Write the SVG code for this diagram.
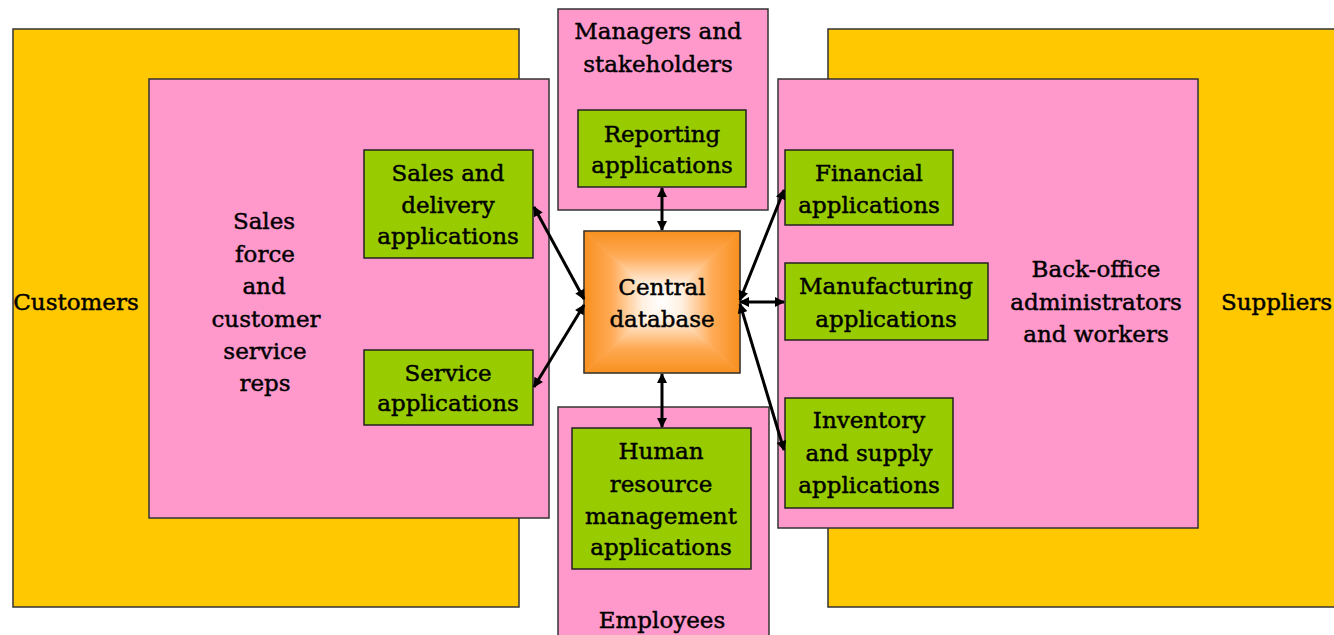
<svg xmlns="http://www.w3.org/2000/svg" width="1334" height="635" viewBox="0 0 1334 635">
<defs>
<style>
.y{fill:#FFC800;stroke:#333;stroke-width:1.5}
.p{fill:#FF99CC;stroke:#333;stroke-width:1.5}
.g{fill:#99CC00;stroke:#222;stroke-width:1.5}
text{font-family:"DejaVu Serif","Liberation Serif",serif;font-size:23px;fill:#000;stroke:#000;stroke-width:0.45;text-anchor:middle}
.c line{stroke:#000;stroke-width:3;marker-start:url(#ah);marker-end:url(#ah)}
.tri{stroke-width:0.8}
</style>
<marker id="ah" viewBox="0 0 10 10" refX="9" refY="5" markerWidth="11" markerHeight="10" markerUnits="userSpaceOnUse" orient="auto-start-reverse">
<path d="M0,0 L10,5 L0,10 z" fill="#000"/>
</marker>
<linearGradient id="gt" gradientUnits="userSpaceOnUse" x1="0" y1="231" x2="0" y2="302">
<stop offset="0" stop-color="#F7901E"/><stop offset="0.35" stop-color="#FFAA55"/><stop offset="0.75" stop-color="#FFF0E0"/><stop offset="1" stop-color="#FFFFFF"/>
</linearGradient>
<linearGradient id="gb" gradientUnits="userSpaceOnUse" x1="0" y1="373" x2="0" y2="302">
<stop offset="0" stop-color="#F7901E"/><stop offset="0.35" stop-color="#FFAA55"/><stop offset="0.75" stop-color="#FFF0E0"/><stop offset="1" stop-color="#FFFFFF"/>
</linearGradient>
<linearGradient id="gl" gradientUnits="userSpaceOnUse" x1="584" y1="0" x2="662" y2="0">
<stop offset="0" stop-color="#F7901E"/><stop offset="0.35" stop-color="#FFAA55"/><stop offset="0.75" stop-color="#FFF0E0"/><stop offset="1" stop-color="#FFFFFF"/>
</linearGradient>
<linearGradient id="gr" gradientUnits="userSpaceOnUse" x1="740" y1="0" x2="662" y2="0">
<stop offset="0" stop-color="#F7901E"/><stop offset="0.35" stop-color="#FFAA55"/><stop offset="0.75" stop-color="#FFF0E0"/><stop offset="1" stop-color="#FFFFFF"/>
</linearGradient>
</defs>
<rect width="1334" height="635" fill="#FFFFFF"/>
<g id="customers">
<rect class="y" x="13" y="29" width="506" height="578"/>
<text x="76" y="310">Customers</text>
</g>
<g id="suppliers">
<rect class="y" x="828" y="29" width="510" height="578"/>
<text x="1221" y="310" style="text-anchor:start">Suppliers</text>
</g>
<g id="sales-force">
<rect class="p" x="149" y="79" width="400" height="439"/>
<text x="264" y="229">Sales</text>
<text x="265" y="262">force</text>
<text x="264" y="294">and</text>
<text x="266" y="327">customer</text>
<text x="265" y="359">service</text>
<text x="265" y="391">reps</text>
</g>
<g id="back-office">
<rect class="p" x="778" y="79" width="420" height="449"/>
<text x="1096" y="277">Back-office</text>
<text x="1096" y="310">administrators</text>
<text x="1096" y="342">and workers</text>
</g>
<g id="managers">
<rect class="p" x="558" y="9" width="210" height="201"/>
<text x="658" y="39">Managers and</text>
<text x="658" y="72">stakeholders</text>
</g>
<g id="employees">
<rect class="p" x="558" y="407" width="211" height="240"/>
<text x="662" y="628">Employees</text>
</g>
<g id="reporting">
<rect class="g" x="578" y="110" width="168" height="77"/>
<text x="662" y="142">Reporting</text>
<text x="662" y="173">applications</text>
</g>
<g id="sales-delivery">
<rect class="g" x="364" y="150" width="169" height="108"/>
<text x="448" y="181">Sales and</text>
<text x="448" y="213">delivery</text>
<text x="448" y="244">applications</text>
</g>
<g id="service">
<rect class="g" x="364" y="350" width="169" height="75"/>
<text x="448" y="381">Service</text>
<text x="448" y="411">applications</text>
</g>
<g id="financial">
<rect class="g" x="785" y="150" width="168" height="75"/>
<text x="869" y="181">Financial</text>
<text x="869" y="213">applications</text>
</g>
<g id="manufacturing">
<rect class="g" x="785" y="263" width="203" height="77"/>
<text x="886" y="294">Manufacturing</text>
<text x="886" y="327">applications</text>
</g>
<g id="inventory">
<rect class="g" x="785" y="398" width="168" height="110"/>
<text x="869" y="428">Inventory</text>
<text x="869" y="461">and supply</text>
<text x="869" y="493">applications</text>
</g>
<g id="hr">
<rect class="g" x="572" y="428" width="179" height="141"/>
<text x="661" y="459">Human</text>
<text x="661" y="492">resource</text>
<text x="661" y="524">management</text>
<text x="661" y="555">applications</text>
</g>
<g id="central-db">
<polygon class="tri" points="584,231 584,373 662,302" fill="url(#gl)" stroke="url(#gl)"/>
<polygon class="tri" points="740,231 740,373 662,302" fill="url(#gr)" stroke="url(#gr)"/>
<polygon class="tri" points="584,231 740,231 662,302" fill="url(#gt)" stroke="url(#gt)"/>
<polygon class="tri" points="584,373 740,373 662,302" fill="url(#gb)" stroke="url(#gb)"/>
<rect x="584" y="231" width="156" height="142" fill="none" stroke="#333" stroke-width="1.5"/>
<text x="662" y="295">Central</text>
<text x="662" y="327">database</text>
</g>
<g id="connectors" class="c">
<line x1="662" y1="188" x2="662" y2="230"/>
<line x1="662" y1="374" x2="662" y2="427"/>
<line x1="534" y1="207" x2="584" y2="299"/>
<line x1="534" y1="387" x2="584" y2="305"/>
<line x1="740" y1="300" x2="784" y2="190"/>
<line x1="740" y1="302" x2="784" y2="302"/>
<line x1="740" y1="304" x2="784" y2="450"/>
</g>
</svg>
